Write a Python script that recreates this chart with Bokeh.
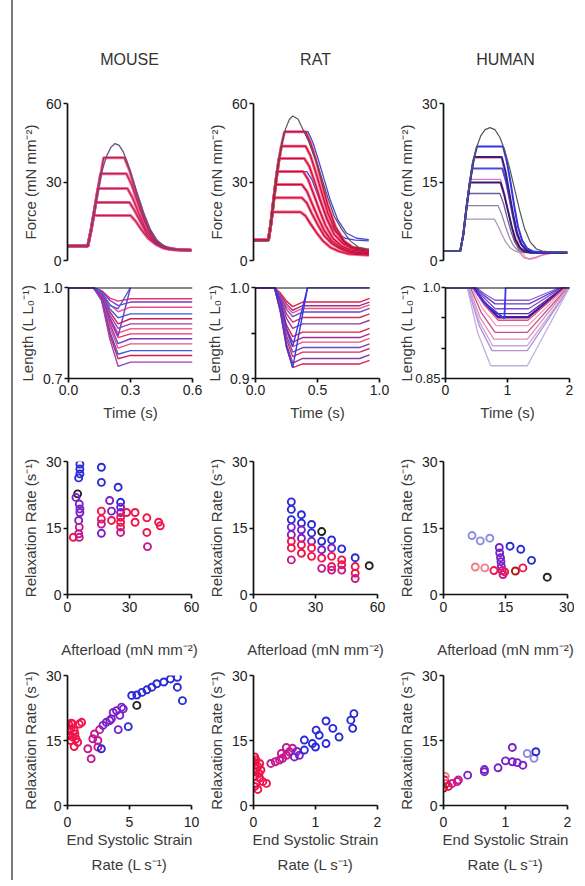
from bokeh.plotting import figure
from bokeh.layouts import row, column
from bokeh.models import Range1d, FixedTicker, Div, PrintfTickFormatter
from bokeh.embed import file_html
from bokeh.resources import INLINE

FONT = "Liberation Sans"

# ---------------- DATA ----------------
species = ["MOUSE", "RAT", "HUMAN"]

# Force traces (time s, force mN mm^-2)
mouse_iso_t = [0, 0.098, 0.115, 0.13, 0.15, 0.17, 0.19, 0.21, 0.23, 0.25, 0.27, 0.29, 0.31, 0.34, 0.37, 0.40, 0.43, 0.46, 0.50, 0.55, 0.60]
mouse_iso_F = [5.5, 5.5, 12, 19, 28, 35, 40, 43.3, 44.7, 44, 41.5, 37.5, 32.5, 25, 18, 12, 8, 5.8, 4.5, 4, 3.8]
mouse_aft_t = [
    [0, 0.098, 0.115, 0.13, 0.15, 0.175, 0.275, 0.30, 0.33, 0.36, 0.39, 0.43, 0.47, 0.52, 0.60],
    [0, 0.098, 0.115, 0.13, 0.16, 0.285, 0.31, 0.34, 0.37, 0.40, 0.44, 0.48, 0.53, 0.60],
    [0, 0.098, 0.115, 0.13, 0.147, 0.29, 0.315, 0.345, 0.375, 0.41, 0.45, 0.49, 0.54, 0.60],
    [0, 0.098, 0.115, 0.137, 0.30, 0.325, 0.355, 0.385, 0.42, 0.46, 0.50, 0.55, 0.60],
    [0, 0.098, 0.115, 0.127, 0.305, 0.33, 0.36, 0.39, 0.43, 0.47, 0.52, 0.60],
]
mouse_aft_F = [
    [5.5, 5.5, 12, 19, 28, 39.3, 39.3, 34.5, 26.5, 19, 12.5, 7.5, 5.2, 4.3, 4],
    [5.5, 5.5, 12, 19, 33.2, 33.2, 29, 22, 15.5, 10.5, 6.5, 4.8, 4.2, 4],
    [5.5, 5.5, 12, 19, 27.5, 27.5, 24, 18, 12.5, 8.5, 5.5, 4.5, 4.1, 3.9],
    [5.5, 5.5, 12, 22.2, 22.2, 19, 14.5, 10, 7, 5, 4.3, 4, 3.8],
    [5.5, 5.5, 12, 17.2, 17.2, 15, 11.5, 8.5, 6, 4.6, 4, 3.8],
]

rat_iso_t = [0, 0.12, 0.14, 0.16, 0.18, 0.20, 0.23, 0.26, 0.29, 0.317, 0.36, 0.40, 0.44, 0.48, 0.52, 0.56, 0.60, 0.65, 0.71, 0.78, 0.85, 0.93]
rat_iso_F = [7.7, 7.7, 14, 22, 30, 37, 45, 50.5, 54, 55.2, 54, 50, 46, 41, 36, 30, 24, 17, 12, 7.5, 5, 4]
rat_aft_t = [
    [0, 0.12, 0.14, 0.16, 0.18, 0.20, 0.23, 0.25, 0.42, 0.46, 0.50, 0.55, 0.60, 0.66, 0.73, 0.80, 0.93],
    [0, 0.12, 0.14, 0.16, 0.18, 0.20, 0.225, 0.42, 0.46, 0.50, 0.55, 0.60, 0.66, 0.73, 0.80, 0.93],
    [0, 0.12, 0.14, 0.16, 0.18, 0.207, 0.41, 0.45, 0.49, 0.54, 0.59, 0.65, 0.72, 0.80, 0.93],
    [0, 0.12, 0.14, 0.16, 0.19, 0.40, 0.44, 0.48, 0.53, 0.58, 0.64, 0.71, 0.79, 0.93],
    [0, 0.12, 0.14, 0.16, 0.178, 0.39, 0.43, 0.47, 0.52, 0.57, 0.63, 0.70, 0.78, 0.93],
    [0, 0.12, 0.14, 0.165, 0.39, 0.43, 0.47, 0.52, 0.57, 0.63, 0.70, 0.78, 0.93],
    [0, 0.12, 0.14, 0.152, 0.38, 0.42, 0.46, 0.51, 0.56, 0.62, 0.69, 0.77, 0.93],
]
rat_aft_F = [
    [7.7, 7.7, 14, 22, 30, 37, 45, 49.2, 49.2, 45, 39, 30, 21, 13, 7.5, 5, 4],
    [7.7, 7.7, 14, 22, 30, 37, 43.7, 43.7, 40, 34, 26, 18, 11.5, 7, 5, 4],
    [7.7, 7.7, 14, 22, 30, 39, 39, 36, 30.5, 23, 16, 10, 6.5, 4.5, 3.5],
    [7.7, 7.7, 14, 22, 34, 34, 31, 26, 19.5, 13.5, 8.5, 5.5, 4, 3],
    [7.7, 7.7, 14, 22, 29, 29, 26.5, 22, 16.5, 11.5, 7.5, 5, 3.5, 2.5],
    [7.7, 7.7, 14, 24, 24, 22, 18, 13.5, 9.5, 6.5, 4.5, 3, 2.5],
    [7.7, 7.7, 14, 18.5, 18.5, 17, 14, 10.5, 7.5, 5, 3.5, 2.5, 2],
]
rat_blue_t = [
    [0, 0.12, 0.14, 0.16, 0.18, 0.20, 0.23, 0.25, 0.44, 0.48, 0.52, 0.57, 0.62, 0.68, 0.75, 0.83, 0.93],
    [0, 0.12, 0.14, 0.16, 0.19, 0.43, 0.47, 0.51, 0.56, 0.61, 0.67, 0.74, 0.82, 0.93],
]
rat_blue_F = [
    [7.7, 7.7, 14, 22, 30, 37, 45, 49.2, 49.2, 45, 39, 31, 23, 15.5, 10.5, 8.5, 8],
    [7.7, 7.7, 14, 22, 34, 34, 31, 26, 20, 14.5, 10.5, 8.5, 7.8, 7.5],
]

human_iso_t = [0, 0.27, 0.32, 0.37, 0.42, 0.47, 0.53, 0.60, 0.67, 0.75, 0.83, 0.91, 0.99, 1.07, 1.15, 1.23, 1.31, 1.40, 1.50, 1.60, 1.75, 2.0]
human_iso_F = [1.8, 1.8, 5, 10, 14.5, 18.5, 21.5, 23.8, 25, 25.4, 25, 23.5, 21, 17.5, 13.5, 9.5, 6, 3.5, 2.2, 1.8, 1.6, 1.6]
human_aft_t = [
    [0, 0.27, 0.32, 0.37, 0.42, 0.47, 0.50, 0.93, 0.99, 1.05, 1.11, 1.17, 1.24, 1.32, 1.40, 1.50, 1.62, 1.75, 2.0],
    [0, 0.27, 0.32, 0.37, 0.43, 0.92, 0.98, 1.04, 1.10, 1.16, 1.23, 1.30, 1.38, 1.48, 1.60, 1.75, 2.0],
    [0, 0.27, 0.32, 0.35, 0.82, 0.88, 0.94, 1.0, 1.07, 1.15, 1.25, 1.4, 1.6, 2.0],
    [0, 0.27, 0.32, 0.375, 0.88, 0.94, 1.0, 1.06, 1.12, 1.19, 1.27, 1.37, 1.6, 2.0],
    [0, 0.27, 0.32, 0.37, 0.40, 0.91, 0.97, 1.03, 1.09, 1.15, 1.22, 1.30, 1.40, 1.6, 2.0],
    [0, 0.27, 0.32, 0.37, 0.425, 0.92, 0.98, 1.04, 1.10, 1.16, 1.23, 1.31, 1.41, 1.6, 2.0],
    [0, 0.27, 0.32, 0.37, 0.46, 0.95, 1.01, 1.07, 1.13, 1.19, 1.26, 1.34, 1.44, 1.6, 2.0],
    [0, 0.27, 0.32, 0.37, 0.42, 0.495, 0.94, 1.0, 1.06, 1.12, 1.18, 1.25, 1.33, 1.43, 1.6, 2.0],
    [0, 0.27, 0.32, 0.37, 0.42, 0.47, 0.54, 0.96, 1.02, 1.08, 1.14, 1.20, 1.27, 1.35, 1.45, 1.60, 2.0],
]
human_aft_F = [
    [1.8, 1.8, 5, 10, 14.5, 18.5, 19.5, 19.5, 16.5, 12.5, 8.5, 5, 2.2, 0.6, 0.2, 0.5, 1.1, 1.4, 1.5],
    [1.8, 1.8, 5, 10, 15.5, 15.5, 13, 9.5, 6.5, 3.5, 1.5, 0.5, 0.3, 0.6, 1.1, 1.4, 1.5],
    [1.8, 1.8, 5, 7.9, 7.9, 6.6, 5, 3.6, 2.5, 1.8, 1.5, 1.5, 1.5, 1.5],
    [1.8, 1.8, 5, 10.5, 10.5, 8.8, 6.5, 4.5, 3, 2, 1.6, 1.5, 1.5, 1.5],
    [1.8, 1.8, 5, 10, 12.8, 12.8, 10.8, 8, 5.5, 3.5, 2.2, 1.6, 1.5, 1.5, 1.5],
    [1.8, 1.8, 5, 10, 14.9, 14.9, 12.5, 9.5, 6.5, 4, 2.5, 1.7, 1.5, 1.5, 1.5],
    [1.8, 1.8, 5, 10, 17.6, 17.6, 15, 11.5, 8, 5, 3, 2, 1.6, 1.5, 1.5],
    [1.8, 1.8, 5, 10, 14.5, 19.8, 19.8, 17, 13, 9, 5.5, 3.2, 2, 1.6, 1.5, 1.5],
    [1.8, 1.8, 5, 10, 14.5, 18.5, 21.8, 21.8, 19, 15, 10.5, 6.5, 3.8, 2.3, 1.7, 1.6, 1.6],
]

# Length traces (time s, L / L0)
mouse_len_t = [0, 0.12, 0.16, 0.20, 0.24, 0.30, 0.60]
mouse_len_L = [
    [1, 1, 0.990, 0.965, 0.955, 0.963, 0.963],
    [1, 1, 0.988, 0.958, 0.940, 0.952, 0.952],
    [1, 1, 0.985, 0.945, 0.920, 0.935, 0.935],
    [1, 1, 0.980, 0.930, 0.900, 0.913, 0.913],
    [1, 1, 0.978, 0.920, 0.880, 0.897, 0.897],
    [1, 1, 0.975, 0.910, 0.865, 0.880, 0.880],
    [1, 1, 0.972, 0.900, 0.850, 0.864, 0.864],
    [1, 1, 0.970, 0.890, 0.835, 0.847, 0.847],
    [1, 1, 0.968, 0.880, 0.815, 0.831, 0.831],
    [1, 1, 0.965, 0.870, 0.800, 0.814, 0.814],
    [1, 1, 0.962, 0.855, 0.780, 0.792, 0.792],
    [1, 1, 0.960, 0.845, 0.765, 0.776, 0.776],
    [1, 1, 0.957, 0.830, 0.740, 0.754, 0.754],
]
mouse_ret_t = [0, 0.12, 0.16, 0.20, 0.24, 0.30]
mouse_ret_L = [
    [1, 1, 0.985, 0.940, 0.930, 1.0],
    [1, 1, 0.970, 0.900, 0.840, 1.0],
]
mouse_iso_len_t = [0, 0.6]
mouse_iso_len_L = [1.0, 1.0]

rat_len_t = [0, 0.153, 0.20, 0.25, 0.30, 0.38, 0.84, 0.92]
rat_len_L = [
    [1, 1, 0.994, 0.985, 0.979, 0.984, 0.984, 0.988],
    [1, 1, 0.993, 0.982, 0.975, 0.980, 0.980, 0.984],
    [1, 1, 0.992, 0.979, 0.972, 0.977, 0.977, 0.981],
    [1, 1, 0.991, 0.976, 0.968, 0.973, 0.973, 0.977],
    [1, 1, 0.989, 0.971, 0.962, 0.967, 0.967, 0.971],
    [1, 1, 0.987, 0.966, 0.955, 0.960, 0.960, 0.964],
    [1, 1, 0.984, 0.959, 0.946, 0.951, 0.951, 0.955],
    [1, 1, 0.982, 0.955, 0.940, 0.945, 0.945, 0.949],
    [1, 1, 0.981, 0.951, 0.935, 0.940, 0.940, 0.944],
    [1, 1, 0.979, 0.947, 0.929, 0.934, 0.934, 0.938],
    [1, 1, 0.977, 0.943, 0.924, 0.929, 0.929, 0.933],
    [1, 1, 0.975, 0.938, 0.917, 0.922, 0.922, 0.926],
    [1, 1, 0.973, 0.934, 0.912, 0.916, 0.916, 0.920],
]
rat_ret_t = [0, 0.153, 0.20, 0.25, 0.30, 0.42, 0.92]
rat_ret_L = [
    [1, 1, 0.985, 0.955, 0.935, 1.0, 1.0],
    [1, 1, 0.975, 0.935, 0.912, 1.0, 1.0],
]
rat_iso_len_t = [0, 0.92]
rat_iso_len_L = [1.0, 1.0]

human_len_t = [
    [0, 0.50, 0.62, 0.80, 1.35, 1.85, 2.0],
    [0, 0.48, 0.62, 0.80, 1.35, 1.87, 2.0],
    [0, 0.47, 0.62, 0.80, 1.34, 1.88, 2.0],
    [0, 0.46, 0.62, 0.82, 1.34, 1.90, 2.0],
    [0, 0.45, 0.62, 0.85, 1.33, 1.92, 2.0],
    [0, 0.44, 0.62, 0.85, 1.33, 1.93, 2.0],
    [0, 0.42, 0.60, 0.82, 1.33, 1.95, 2.0],
    [0, 0.40, 0.58, 0.80, 1.32, 1.97, 2.0],
    [0, 0.38, 0.56, 0.78, 1.32, 1.98, 2.0],
    [0, 0.37, 0.55, 0.76, 1.32, 2.0],
    [0, 0.36, 0.54, 0.75, 1.32, 2.0],
    [0, 0.35, 0.52, 0.73, 1.32, 2.0],
]
human_len_L = [
    [1, 1, 0.990, 0.979, 0.979, 1, 1],
    [1, 1, 0.987, 0.973, 0.973, 1, 1],
    [1, 1, 0.983, 0.965, 0.965, 1, 1],
    [1, 1, 0.978, 0.957, 0.957, 1, 1],
    [1, 1, 0.975, 0.951, 0.951, 1, 1],
    [1, 1, 0.972, 0.946, 0.946, 1, 1],
    [1, 1, 0.965, 0.937, 0.937, 1, 1],
    [1, 1, 0.958, 0.926, 0.926, 1, 1],
    [1, 1, 0.950, 0.915, 0.915, 1, 1],
    [1, 1, 0.943, 0.904, 0.904, 1],
    [1, 1, 0.938, 0.896, 0.896, 1],
    [1, 1, 0.925, 0.871, 0.871, 1],
]
human_ret_t = [0, 0.45, 0.62, 0.95, 0.97, 2.0]
human_ret_L = [1, 1, 0.975, 0.949, 1.0, 1.0]
human_iso_len_t = [0, 2.0]
human_iso_len_L = [1.0, 1.0]

# Relaxation rate vs afterload (afterload, rate, colour group)
mouse_aft_x = [6.0, 6.0, 6.0, 5.4, 4.9, 4.1, 5.7, 6.0, 6.0, 5.4, 5.7, 5.4, 2.8, 5.7, 16.4, 16.4, 24.5, 20.4, 25.7, 25.7, 25.7, 21.3, 16.4, 16.4, 16.4, 16.4, 21.3, 25.7, 25.7, 25.7, 25.7, 28.6, 32.7, 32.7, 38.4, 38.4, 38.7, 44.1, 44.9]
mouse_aft_y = [29.4, 28.3, 27.2, 26.3, 22.7, 21.9, 20.4, 19.3, 18.5, 16.7, 15.2, 13.7, 12.9, 12.9, 28.7, 25.3, 24.2, 21.2, 20.8, 19.7, 18.5, 18.8, 18.8, 17.0, 15.9, 13.8, 16.7, 17.4, 16.3, 15.2, 14.0, 18.5, 18.5, 16.3, 17.3, 14.0, 10.8, 16.3, 15.5]
mouse_aft_g = list("bbbbkppppp" "mmrm" "bbbpbppprrmp" "rrrrm" "rrrrrmrr")

rat_aft_x = [18.3]*8 + [23.2]*6 + [28.1]*5 + [33.0]*5 + [37.8]*5 + [42.7]*4 + [49.2]*4 + [56.0]
rat_aft_y = [20.9, 19.2, 16.9, 15.2, 13.5, 12.0, 10.5, 7.8,
             18.0, 16.1, 14.6, 12.7, 11.2, 9.3,
             15.8, 13.9, 12.0, 10.5, 8.6,
             14.2, 12.0, 10.1, 8.2, 5.9,
             12.3, 10.5, 8.6, 6.3, 5.5,
             10.3, 7.8, 6.7, 5.5,
             8.3, 6.3, 4.8, 3.6,
             6.5]
rat_aft_g = list("bbbpprrm" "bbpprr" "bbprr" "kbprm" "bprrm" "brrm" "brrm" "k")

human_aft_x = [6.9, 8.9, 11.2, 16.1, 18.7, 21.3, 25.1, 13.5, 13.6, 13.8, 13.9, 14.0, 14.2, 14.4, 7.7, 10.0, 12.2, 14.8, 17.4, 19.2]
human_aft_y = [13.3, 12.1, 12.7, 10.9, 10.2, 7.7, 3.9, 10.6, 9.4, 8.3, 7.4, 6.4, 5.4, 4.5, 6.2, 6.0, 5.4, 5.1, 5.3, 6.0]
human_aft_g = list("lllbbbk" "pppppmm" "ssrrdr")

# Relaxation rate vs end systolic strain rate
mouse_sr_x = [0.14, 0.27, 0.41, 0.54, 0.14, 0.41, 0.68, 0.95, 1.14, 0.27, 0.54, 0.82, 0.14, 0.30, 0.60,
              1.64, 1.91, 2.04, 2.18, 2.45, 2.59, 2.45,
              2.86, 3.13, 3.41, 3.68, 3.95, 4.22, 4.36, 4.50, 4.09, 3.54,
              2.73, 4.90, 5.18, 5.59, 6.00, 6.40, 6.80, 7.20, 7.77, 8.31, 8.86, 8.86, 9.27,
              5.59]
mouse_sr_y = [18.5, 17.7, 18.8, 17.3, 16.2, 15.8, 15.4, 18.8, 19.2, 15.0, 13.6, 14.6, 17.3, 19.0, 16.5,
              13.1, 10.8, 15.4, 16.5, 15.0, 17.5, 13.5,
              18.5, 19.2, 19.6, 21.5, 21.9, 20.8, 22.7, 22.3, 17.5, 20.0,
              13.1, 18.2, 25.4, 25.5, 26.1, 26.7, 27.3, 28.1, 28.5, 29.2, 29.6, 27.3, 24.2,
              23.1]
mouse_sr_g = list("rrrrrrrrrrrrrrr" "mmmmmmm" "pppppppppp" "bbbbbbbbbbbbb" "k")

rat_sr_x = [0.02, 0.04, 0.02, 0.07, 0.03, 0.09, 0.02, 0.10, 0.15, 0.21, 0.04, 0.07, 0.02, 0.10, 0.12, 0.05, 0.01,
            0.28, 0.35, 0.42, 0.47, 0.53, 0.58, 0.53, 0.45, 0.63,
            0.66, 0.74, 0.70, 0.82, 0.82, 0.95, 1.00, 1.01, 1.06, 1.17, 1.17, 1.28, 1.38, 1.57, 1.62, 1.60]
rat_sr_y = [11.2, 10.5, 9.3, 9.0, 7.8, 7.4, 6.7, 6.3, 5.5, 5.1, 5.1, 3.7, 4.4, 9.7, 8.2, 8.5, 10.0,
            9.7, 10.1, 10.5, 10.9, 11.6, 12.4, 13.4, 12.0, 13.2,
            11.2, 11.6, 12.5, 12.8, 15.1, 14.3, 13.5, 17.4, 16.2, 19.5, 14.3, 17.8, 15.8, 19.7, 21.2, 17.8]
rat_sr_g = list("rrrrrrrrrrrrrrrrr" "mmmmmmmmm" "ppp" "bbbbbbbbbbbbb")

human_sr_x = [0.02, 0.05, 0.00, 0.08, 0.14, 0.22, 0.03, 0.24, 0.39, 0.66, 0.66, 0.88, 1.00, 1.11, 1.19, 1.28, 1.11, 1.35, 1.46, 1.49]
human_sr_y = [5.9, 5.1, 4.0, 4.4, 5.1, 5.5, 6.7, 5.9, 7.0, 7.8, 8.3, 8.7, 10.3, 10.1, 9.9, 9.3, 13.4, 12.0, 10.9, 12.4]
human_sr_g = list("rrdrmms" "mppppppppp" "llbl")

# ---------------- STYLE ----------------
GROUP_COLORS = {"b": "#2b2bd6", "p": "#7a22c8", "m": "#c41a8e", "r": "#f0144a",
                "k": "#222222", "l": "#8c8ce0", "s": "#f08080", "d": "#b01818"}
YSTAND = 4


def make_fig(xr, yr, fh, top, bottom, right, title=None):
    p = figure(frame_width=124, frame_height=fh, x_range=Range1d(*xr), y_range=Range1d(*yr),
               min_border_left=51, min_border_right=right, min_border_top=top,
               min_border_bottom=bottom, output_backend="svg", toolbar_location=None,
               title=title)
    p.grid.visible = False
    p.outline_line_color = None
    p.background_fill_color = "white"
    p.border_fill_color = "white"
    for ax in p.axis:
        ax.axis_line_width = 1.7
        ax.axis_line_color = "#111111"
        ax.major_tick_line_width = 1.7
        ax.major_tick_line_color = "#111111"
        ax.minor_tick_line_width = 1.7
        ax.minor_tick_line_color = "#111111"
        ax.major_tick_out = 4
        ax.major_tick_in = 0
        ax.minor_tick_out = 4
        ax.minor_tick_in = 0
        ax.major_label_text_font = FONT
        ax.major_label_text_font_size = "14px"
        ax.major_label_text_color = "#222222"
        ax.axis_label_text_font = FONT
        ax.axis_label_text_font_size = "15px"
        ax.axis_label_text_font_style = "normal"
        ax.axis_label_text_color = "#3a3a3a"
    if title is not None:
        p.title.align = "center"
        p.title.text_font = FONT
        p.title.text_font_size = "16px"
        p.title.text_font_style = "normal"
        p.title.text_color = "#333333"
        p.title.standoff = 72
    return p


RIGHTS = [11, 15, 7]

# ---------- Row 1: force ----------
force_specs = [
    ((0, 0.6), (0, 60), [0, 30, 60]),
    ((0, 1.0), (0, 60), [0, 30, 60]),
    ((0, 2.0), (0, 30), [0, 15, 30]),
]
row1 = []
for i, (xr, yr, yt) in enumerate(force_specs):
    p = make_fig(xr, yr, 157, 103, 10, RIGHTS[i], title=species[i])
    p.xaxis.visible = False
    p.yaxis.ticker = FixedTicker(ticks=yt)
    p.yaxis.axis_label = "Force (mN mm⁻²)"
    p.yaxis.axis_label_standoff = YSTAND
    p.yaxis.major_label_standoff = 2
    row1.append(p)

pm = row1[0]
for tt, ff in zip(mouse_aft_t, mouse_aft_F):
    pm.line(tt, ff, line_color="#ff2d6a", line_width=3.0, line_alpha=0.75)
for tt, ff in zip(mouse_aft_t, mouse_aft_F):
    pm.line(tt, ff, line_color="#a8285e", line_width=1.1)
pm.line(mouse_iso_t, mouse_iso_F, line_color="#6a4f80", line_width=1.3)

pr = row1[1]
for tt, ff in zip(rat_blue_t, rat_blue_F):
    pr.line(tt, ff, line_color="#4a44dd", line_width=1.3)
for tt, ff in zip(rat_aft_t, rat_aft_F):
    pr.line(tt, ff, line_color="#ff2d5a", line_width=3.0, line_alpha=0.75)
for tt, ff in zip(rat_aft_t, rat_aft_F):
    pr.line(tt, ff, line_color="#b81040", line_width=1.1)
pr.line(rat_iso_t, rat_iso_F, line_color="#555555", line_width=1.2)

ph = row1[2]
human_force_colors = ["#f2a8b8", "#e078c8", "#a498b0", "#8e80a8", "#6e5e98", "#3a1a6a", "#4a4ae0", "#3b1f78", "#3535e6"]
human_force_widths = [1.3, 1.3, 1.2, 1.2, 1.3, 2.0, 2.0, 2.0, 2.0]
for tt, ff, c, w in zip(human_aft_t, human_aft_F, human_force_colors, human_force_widths):
    ph.line(tt, ff, line_color=c, line_width=w)
ph.line(human_iso_t, human_iso_F, line_color="#555555", line_width=1.2)

# ---------- Row 2: length ----------
len_specs = [
    ((0, 0.6), (0.7, 1.0), [0.7, 1.0], [], [0, 0.3, 0.6], "%.1f", YSTAND, {}),
    ((0, 1.0), (0.9, 1.0), [0.9, 1.0], [0.95], [0, 0.5, 1.0], "%.1f", YSTAND, {}),
    ((0, 2.0), (0.85, 1.0), [0.85, 1.0], [0.9, 0.95], [0, 1, 2], "%d", -3, {1.0: "1.0", 0.85: "0.85"}),
]
row2 = []
for i, (xr, yr, yt, ymt, xt, xfmt, ystand, yover) in enumerate(len_specs):
    p = make_fig(xr, yr, 91, 17, 50, RIGHTS[i])
    p.yaxis.ticker = FixedTicker(ticks=yt, minor_ticks=ymt)
    p.yaxis.formatter = PrintfTickFormatter(format="%.2f" if i == 2 else "%.1f")
    if yover:
        p.yaxis.major_label_overrides = yover
        p.yaxis.major_label_text_font_size = "13px"
    p.xaxis.ticker = FixedTicker(ticks=xt)
    p.xaxis.formatter = PrintfTickFormatter(format=xfmt)
    p.yaxis.axis_label = "Length (L L₀⁻¹)"
    p.yaxis.axis_label_standoff = ystand
    p.yaxis.major_label_standoff = 2 if i < 2 else 1
    p.xaxis.axis_label = "Time (s)"
    p.xaxis.major_label_standoff = 2
    p.xaxis.axis_label_standoff = 6
    row2.append(p)

mouse_len_colors = ["#f0306a", "#7a3ac8", "#e8508a", "#3a5ae0", "#d02050", "#9a40b8", "#f06090"]
pl = row2[0]
for k, ll in enumerate(mouse_len_L):
    pl.line(mouse_len_t, ll, line_color=mouse_len_colors[k % len(mouse_len_colors)], line_width=1.4)
for ll, c in zip(mouse_ret_L, ["#4060e0", "#7040c0"]):
    pl.line(mouse_ret_t, ll, line_color=c, line_width=1.4)
pl.line(mouse_iso_len_t, mouse_iso_len_L, line_color="#111111", line_width=2)

rat_len_colors = ["#e0204a", "#a03090", "#f05080", "#6a4ac8", "#d03060", "#8a3aa8"]
pl = row2[1]
for k, ll in enumerate(rat_len_L):
    pl.line(rat_len_t, ll, line_color=rat_len_colors[k % len(rat_len_colors)], line_width=1.4)
for ll in rat_ret_L:
    pl.line(rat_ret_t, ll, line_color="#3a3ae0", line_width=1.4)
pl.line(rat_iso_len_t, rat_iso_len_L, line_color="#111111", line_width=2)

human_len_colors = ["#8a5ad8", "#6a3ac0", "#7a4ad0", "#5a2aa8", "#4a1a98", "#e05080",
                    "#f0a0c0", "#c05090", "#e090b0", "#c8a8e0", "#b090d8", "#c0b0e0"]
human_len_widths = [1.3, 1.3, 1.3, 1.3, 2.4, 1.3, 1.3, 1.3, 1.3, 1.3, 1.3, 1.3]
pl = row2[2]
for tt, ll, c, w in zip(human_len_t, human_len_L, human_len_colors, human_len_widths):
    pl.line(tt, ll, line_color=c, line_width=w)
pl.line(human_ret_t, human_ret_L, line_color="#3a3ae8", line_width=1.8)
pl.line(human_iso_len_t, human_iso_len_L, line_color="#111111", line_width=2)

# ---------- Row 3: relaxation vs afterload ----------
aft_specs = [((0, 60), [0, 30, 60]), ((0, 60), [0, 30, 60]), ((0, 30), [0, 15, 30])]
aft_data = [(mouse_aft_x, mouse_aft_y, mouse_aft_g), (rat_aft_x, rat_aft_y, rat_aft_g),
            (human_aft_x, human_aft_y, human_aft_g)]
row3 = []
for i, ((xr, xt), (xs, ys, gs)) in enumerate(zip(aft_specs, aft_data)):
    p = make_fig(xr, (0, 30), 133, 33, 71, RIGHTS[i])
    p.yaxis.ticker = FixedTicker(ticks=[0, 15, 30])
    p.xaxis.ticker = FixedTicker(ticks=xt)
    p.yaxis.axis_label = "Relaxation Rate (s⁻¹)"
    p.yaxis.axis_label_standoff = YSTAND
    p.yaxis.major_label_standoff = 2
    p.xaxis.axis_label = "Afterload (mN mm⁻²)"
    p.xaxis.major_label_standoff = 3
    p.xaxis.axis_label_standoff = 26
    p.scatter(xs, ys, marker="circle", size=7, fill_color=None,
              line_color=[GROUP_COLORS[g] for g in gs], line_width=1.9)
    row3.append(p)

# ---------- Row 4: relaxation vs strain rate ----------
sr_specs = [((0, 10), [0, 5, 10]), ((0, 2), [0, 1, 2]), ((0, 2), [0, 1, 2])]
sr_data = [(mouse_sr_x, mouse_sr_y, mouse_sr_g), (rat_sr_x, rat_sr_y, rat_sr_g),
           (human_sr_x, human_sr_y, human_sr_g)]
row4 = []
for i, ((xr, xt), (xs, ys, gs)) in enumerate(zip(sr_specs, sr_data)):
    p = make_fig(xr, (0, 30), 130, 10, 75, RIGHTS[i])
    p.yaxis.ticker = FixedTicker(ticks=[0, 15, 30])
    p.xaxis.ticker = FixedTicker(ticks=xt)
    p.yaxis.axis_label = "Relaxation Rate (s⁻¹)"
    p.yaxis.axis_label_standoff = YSTAND
    p.yaxis.major_label_standoff = 2
    p.xaxis.axis_label = "End Systolic Strain\nRate (L s⁻¹)"
    p.xaxis.axis_label_text_line_height = 1.5
    p.xaxis.major_label_standoff = 7
    p.xaxis.axis_label_standoff = 1
    p.scatter(xs, ys, marker="circle", size=7, fill_color=None,
              line_color=[GROUP_COLORS[g] for g in gs], line_width=1.9)
    row4.append(p)

line_div = Div(text='<div style="width:2px;height:880px;background:#7c7c7c;margin-left:11px"></div>',
               width=16, height=880, margin=0)

layout = row(line_div, column(row(*row1), row(*row2), row(*row3), row(*row4)))

open("out.html", "w").write(file_html(layout, INLINE))
